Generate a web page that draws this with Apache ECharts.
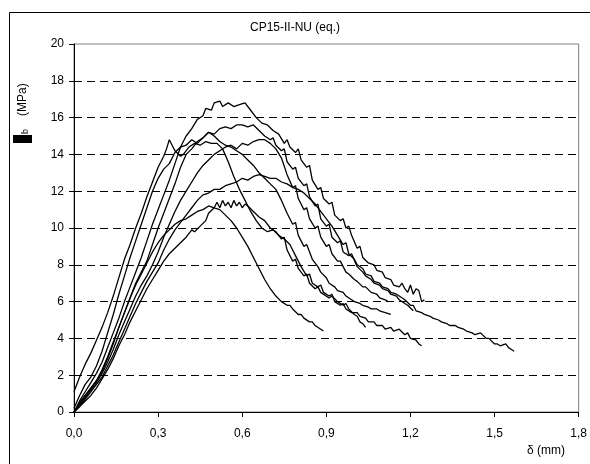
<!DOCTYPE html>
<html><head><meta charset="utf-8">
<script src="https://cdn.jsdelivr.net/npm/echarts@6/dist/echarts.min.js"></script>
<style>html,body{margin:0;padding:0;background:#fff}#c{width:590px;height:464px}</style>
</head><body><div id="c"></div>
<script>
const titleText = 'CP15-II-NU (eq.)';
const xTickValues = [0, 0.3, 0.6, 0.9, 1.2, 1.5, 1.8];
const xTickLabels = ['0,0', '0,3', '0,6', '0,9', '1,2', '1,5', '1,8'];
const yTickValues = [0, 2, 4, 6, 8, 10, 12, 14, 16, 18, 20];
const yTickLabels = ['0', '2', '4', '6', '8', '10', '12', '14', '16', '18', '20'];

const curveA = [[0,0],[0.02,0.6],[0.04,1.1],[0.06,1.6],[0.08,2.1],[0.10,2.7],[0.12,3.5],[0.14,4.3],[0.16,5.1],[0.18,6.0],[0.20,6.8],[0.22,7.6],[0.24,8.4],[0.26,9.3],[0.28,10.2],[0.30,11.0],[0.32,11.8],[0.34,12.6],[0.36,13.5],[0.38,14.4],[0.40,15.0],[0.42,15.4],[0.44,15.9],[0.46,16.1],[0.47,16.5],[0.49,16.4],[0.50,16.8],[0.52,16.9],[0.53,16.6],[0.55,16.8],[0.57,16.6],[0.59,16.7],[0.61,16.8],[0.63,16.4],[0.65,16.0],[0.67,15.7],[0.69,15.6],[0.71,15.3],[0.73,15.1],[0.75,14.6],[0.76,14.8],[0.77,14.4],[0.79,14.1],[0.80,14.3],[0.81,13.7],[0.83,13.3],[0.84,13.4],[0.85,12.6],[0.87,12.1],[0.88,12.2],[0.89,11.6],[0.91,11.3],[0.92,11.4],[0.93,10.7],[0.95,10.4],[0.96,10.5],[0.97,10.0],[0.98,10.1],[0.99,9.6],[1.01,8.9],[1.02,9.0],[1.03,8.4],[1.05,8.1],[1.07,8.0],[1.08,7.7],[1.10,7.6],[1.11,7.3],[1.13,7.2],[1.14,6.9],[1.16,6.8],[1.17,7.0],[1.18,6.7],[1.19,6.5],[1.20,6.9],[1.21,6.4],[1.22,6.7],[1.23,6.6],[1.24,6.0],[1.25,6.1]];
const curveB = [[0,0],[0.02,0.5],[0.04,0.9],[0.06,1.3],[0.08,1.7],[0.10,2.2],[0.12,2.9],[0.14,3.7],[0.16,4.6],[0.18,5.4],[0.20,6.2],[0.22,7.0],[0.24,7.6],[0.26,8.2],[0.28,9.1],[0.30,10.0],[0.32,10.8],[0.34,11.6],[0.36,12.4],[0.38,13.3],[0.40,14.0],[0.42,14.3],[0.44,14.7],[0.46,14.9],[0.48,15.2],[0.50,15.1],[0.52,15.4],[0.54,15.5],[0.56,15.4],[0.58,15.6],[0.60,15.6],[0.62,15.5],[0.64,15.6],[0.66,15.3],[0.68,15.0],[0.70,14.8],[0.71,14.9],[0.72,14.5],[0.74,14.2],[0.75,14.3],[0.76,13.6],[0.78,13.2],[0.79,13.3],[0.80,12.7],[0.82,12.3],[0.83,12.4],[0.84,11.7],[0.86,11.2],[0.87,11.3],[0.88,10.5],[0.90,10.1],[0.91,10.2],[0.92,9.5],[0.94,9.2],[0.95,9.3],[0.96,8.7],[0.98,8.5],[0.99,8.6],[1.01,7.9],[1.03,7.6],[1.04,7.4],[1.06,7.2],[1.07,7.0],[1.09,6.9],[1.10,6.7],[1.12,6.6],[1.13,6.4],[1.15,6.3],[1.16,6.1],[1.18,5.9],[1.19,5.8],[1.21,5.5]];
const curveC = [[0,1.1],[0.02,1.9],[0.04,2.6],[0.06,3.2],[0.08,3.9],[0.10,4.6],[0.12,5.4],[0.14,6.3],[0.16,7.3],[0.18,8.3],[0.20,9.1],[0.22,10.0],[0.24,10.8],[0.26,11.7],[0.28,12.5],[0.30,13.3],[0.32,13.9],[0.33,14.3],[0.34,14.8],[0.35,14.5],[0.36,14.2],[0.38,13.9],[0.39,14.0],[0.41,14.4],[0.43,14.6],[0.45,14.5],[0.47,14.7],[0.49,14.6],[0.51,14.6],[0.53,14.3],[0.55,13.6],[0.57,12.8],[0.59,12.1],[0.61,11.5],[0.63,10.9],[0.65,10.4],[0.67,10.0],[0.69,9.8],[0.71,9.9],[0.73,9.6],[0.75,9.4],[0.77,9.1],[0.79,8.5],[0.81,7.9],[0.83,7.4],[0.84,7.5],[0.85,7.0],[0.87,6.8],[0.88,6.9],[0.89,6.5],[0.91,6.3],[0.92,6.4],[0.93,6.0],[0.95,5.8],[0.96,5.9],[0.97,5.6],[0.99,5.4],[1.01,5.4],[1.02,5.2],[1.04,5.1],[1.05,4.9],[1.07,4.9],[1.08,4.7],[1.10,4.7],[1.11,4.5],[1.13,4.6],[1.14,4.4],[1.16,4.5],[1.18,4.2],[1.19,4.3],[1.20,4.0],[1.22,3.9],[1.23,3.7],[1.24,3.6]];
const curveD = [[0,0.2],[0.02,0.9],[0.04,1.5],[0.06,1.9],[0.08,2.5],[0.10,3.3],[0.12,4.3],[0.14,5.3],[0.16,6.4],[0.18,7.4],[0.20,8.4],[0.22,9.3],[0.24,10.2],[0.26,11.1],[0.28,12.0],[0.30,12.7],[0.32,13.2],[0.34,13.5],[0.36,14.1],[0.38,14.4],[0.40,14.5],[0.42,14.8],[0.44,14.6],[0.46,14.9],[0.48,15.2],[0.50,15.0],[0.52,14.7],[0.54,14.5],[0.56,14.4],[0.58,14.2],[0.60,14.0],[0.62,13.7],[0.64,13.4],[0.66,13.0],[0.68,12.7],[0.70,12.4],[0.72,12.1],[0.74,11.5],[0.76,10.8],[0.78,10.2],[0.79,10.3],[0.80,9.6],[0.82,9.0],[0.83,9.1],[0.85,8.3],[0.87,7.9],[0.88,7.6],[0.90,7.3],[0.91,7.0],[0.93,6.8],[0.94,6.6],[0.96,6.5],[0.97,6.3],[0.99,6.1],[1.00,6.0],[1.02,5.9],[1.03,5.8],[1.05,5.7],[1.06,5.6],[1.08,5.6],[1.09,5.5],[1.11,5.4],[1.13,5.3]];
const curveE = [[0,0],[0.02,0.4],[0.04,0.8],[0.06,1.2],[0.08,1.6],[0.10,2.1],[0.12,2.7],[0.14,3.4],[0.16,4.2],[0.18,4.9],[0.20,5.6],[0.22,6.3],[0.24,6.9],[0.26,7.4],[0.28,8.0],[0.30,8.7],[0.32,9.5],[0.34,10.2],[0.36,10.9],[0.38,11.5],[0.40,12.0],[0.42,12.5],[0.44,13.0],[0.46,13.4],[0.48,13.7],[0.50,14.0],[0.52,14.2],[0.54,14.4],[0.56,14.5],[0.58,14.3],[0.60,14.6],[0.62,14.5],[0.64,14.7],[0.66,14.8],[0.68,14.8],[0.70,14.6],[0.72,14.3],[0.74,13.8],[0.76,12.9],[0.78,12.2],[0.79,12.3],[0.80,11.6],[0.82,11.0],[0.83,11.1],[0.84,10.5],[0.86,10.0],[0.87,10.1],[0.88,9.5],[0.90,9.0],[0.91,9.1],[0.92,8.6],[0.94,8.2],[0.95,8.2],[0.97,7.6],[0.98,7.5],[1.00,7.2],[1.01,7.1],[1.03,6.8],[1.04,6.8],[1.06,6.5],[1.08,6.4],[1.09,6.2],[1.11,6.1],[1.12,6.0]];
const curveF = [[0,0],[0.02,0.3],[0.04,0.7],[0.06,1.1],[0.08,1.5],[0.10,1.9],[0.12,2.5],[0.14,3.1],[0.16,3.8],[0.18,4.5],[0.20,5.2],[0.22,5.9],[0.24,6.5],[0.26,7.1],[0.28,7.6],[0.30,8.1],[0.32,8.8],[0.34,9.4],[0.36,9.9],[0.38,10.3],[0.40,10.7],[0.42,11.1],[0.44,11.5],[0.46,11.8],[0.48,11.9],[0.50,12.1],[0.52,12.1],[0.54,12.3],[0.56,12.4],[0.58,12.5],[0.60,12.7],[0.62,12.6],[0.64,12.8],[0.66,12.9],[0.68,12.8],[0.70,12.7],[0.72,12.7],[0.74,12.5],[0.76,12.4],[0.78,12.2],[0.80,12.1],[0.82,11.9],[0.84,11.6],[0.86,11.3],[0.88,10.9],[0.90,10.5],[0.92,10.1],[0.94,9.6],[0.96,9.1],[0.97,9.2],[0.98,8.6],[1.00,8.3],[1.01,8.0],[1.03,7.8],[1.04,7.5],[1.06,7.4],[1.07,7.1],[1.09,7.0],[1.10,6.8],[1.12,6.7],[1.13,6.5],[1.15,6.4],[1.16,6.3],[1.18,6.1],[1.20,5.8],[1.21,5.8],[1.22,5.5],[1.24,5.4],[1.25,5.3],[1.27,5.2],[1.28,5.1],[1.30,5.0],[1.31,4.9],[1.33,4.8],[1.34,4.7],[1.36,4.7],[1.37,4.6],[1.39,4.5],[1.40,4.4],[1.42,4.3],[1.43,4.2],[1.45,4.3],[1.47,4.0],[1.48,4.0],[1.50,3.7],[1.51,3.7],[1.52,3.6],[1.54,3.7],[1.55,3.5],[1.56,3.4],[1.57,3.3]];
const curveG = [[0,0],[0.02,0.5],[0.04,0.9],[0.06,1.3],[0.08,1.7],[0.10,2.3],[0.12,3.0],[0.14,3.8],[0.16,4.6],[0.18,5.4],[0.20,6.2],[0.22,6.9],[0.24,7.5],[0.26,8.1],[0.28,8.7],[0.30,9.2],[0.32,9.6],[0.34,9.9],[0.36,10.2],[0.38,10.4],[0.40,10.5],[0.42,10.7],[0.44,10.9],[0.46,11.0],[0.48,11.2],[0.50,11.1],[0.52,11.0],[0.54,10.7],[0.56,10.4],[0.58,10.0],[0.60,9.5],[0.62,9.0],[0.64,8.4],[0.66,7.8],[0.68,7.2],[0.70,6.7],[0.72,6.3],[0.74,6.0],[0.76,5.8],[0.77,5.8],[0.78,5.6],[0.80,5.3],[0.81,5.3],[0.82,5.1],[0.84,4.9],[0.85,4.9],[0.86,4.7],[0.88,4.5],[0.89,4.4]];
const curveH = [[0,0],[0.02,0.3],[0.04,0.6],[0.06,0.9],[0.08,1.3],[0.10,1.8],[0.12,2.3],[0.14,2.9],[0.16,3.6],[0.18,4.2],[0.20,4.9],[0.22,5.5],[0.24,6.1],[0.26,6.7],[0.28,7.2],[0.30,7.7],[0.32,8.2],[0.34,8.6],[0.36,8.9],[0.38,9.2],[0.40,9.5],[0.42,9.9],[0.43,9.8],[0.45,10.1],[0.47,10.4],[0.48,10.8],[0.50,11.1],[0.51,11.4],[0.52,11.1],[0.53,11.5],[0.54,11.2],[0.55,11.4],[0.56,11.1],[0.57,11.5],[0.58,11.2],[0.59,11.4],[0.60,11.1],[0.61,11.3],[0.62,11.2],[0.64,10.9],[0.66,10.6],[0.68,10.4],[0.70,10.0],[0.72,9.8],[0.74,9.4],[0.75,9.5],[0.76,8.8],[0.78,8.2],[0.79,8.3],[0.80,7.8],[0.82,7.4],[0.83,7.5],[0.84,7.0],[0.86,6.7],[0.87,6.8],[0.88,6.5],[0.91,6.2],[0.92,6.3],[0.94,6.0],[0.96,5.8],[0.97,5.9],[0.98,5.6],[1.00,5.3],[1.01,5.2],[1.02,4.9],[1.03,4.8],[1.04,4.6]];

const curves = [curveA, curveB, curveC, curveD, curveE, curveF, curveG, curveH];
const FONT = "'Liberation Sans', Arial, sans-serif";

const chart = echarts.init(document.getElementById('c'), null, {renderer: 'canvas'});
const splitColors = yTickValues.map(v => v === 20 ? 'rgba(0,0,0,0)' : '#000');
chart.setOption({
  animation: false,
  backgroundColor: '#fff',
  title: {
    text: titleText, left: 'center', top: 17,
    textStyle: {fontFamily: FONT, fontSize: 12, fontWeight: 'normal', color: '#000'}
  },
  grid: {left: 74, right: 9, top: 44, bottom: 52, show: true, borderColor: '#808080', borderWidth: 1, backgroundColor: 'transparent'},
  xAxis: {
    type: 'value', min: 0, max: 1.8, interval: 0.3,
    axisLine: {show: true, lineStyle: {color: '#000', width: 1}},
    axisTick: {show: true, length: 5, lineStyle: {color: '#000'}},
    splitLine: {show: false},
    axisLabel: {
      margin: 16, color: '#000', fontFamily: FONT, fontSize: 12,
      formatter: v => { const i = xTickValues.findIndex(t => Math.abs(t - v) < 1e-6); return i >= 0 ? xTickLabels[i] : ''; }
    }
  },
  yAxis: {
    type: 'value', min: 0, max: 20, interval: 2,
    axisLine: {show: true, lineStyle: {color: '#000', width: 1}},
    axisTick: {show: true, length: 5, lineStyle: {color: '#000'}},
    splitLine: {show: true, lineStyle: {color: splitColors, width: 1, type: [8, 5]}},
    axisLabel: {
      margin: 10, color: '#000', fontFamily: FONT, fontSize: 12,
      formatter: v => { const i = yTickValues.findIndex(t => Math.abs(t - v) < 1e-6); return i >= 0 ? yTickLabels[i] : ''; }
    }
  },
  series: curves.map(c => ({
    type: 'line', data: c, showSymbol: false, symbol: 'none', smooth: false,
    lineStyle: {color: '#000', width: 1.3}, silent: true
  })),
  graphic: [
    {type: 'rect', left: 7, top: 10, z: -1, shape: {x: 0, y: 0, width: 600, height: 470}, style: {fill: 'none', stroke: '#000', lineWidth: 1}, silent: true},
    {type: 'group', x: 22.5, y: 143, rotation: Math.PI / 2, children: [
      {type: 'rect', shape: {x: 0, y: -9.5, width: 8, height: 19}, style: {fill: '#000'}},
      {type: 'text', x: 9, y: 3, style: {text: 'b', fontFamily: FONT, fontSize: 9, fill: '#000', verticalAlign: 'middle', align: 'left'}},
      {type: 'text', x: 27, y: 0, style: {text: '(MPa)', fontFamily: FONT, fontSize: 12, fill: '#000', verticalAlign: 'middle', align: 'left'}}
    ]},
    {type: 'text', left: 527, top: 445, style: {text: 'δ (mm)', fontFamily: FONT, fontSize: 12, fill: '#000'}}
  ]
});
</script></body></html>
